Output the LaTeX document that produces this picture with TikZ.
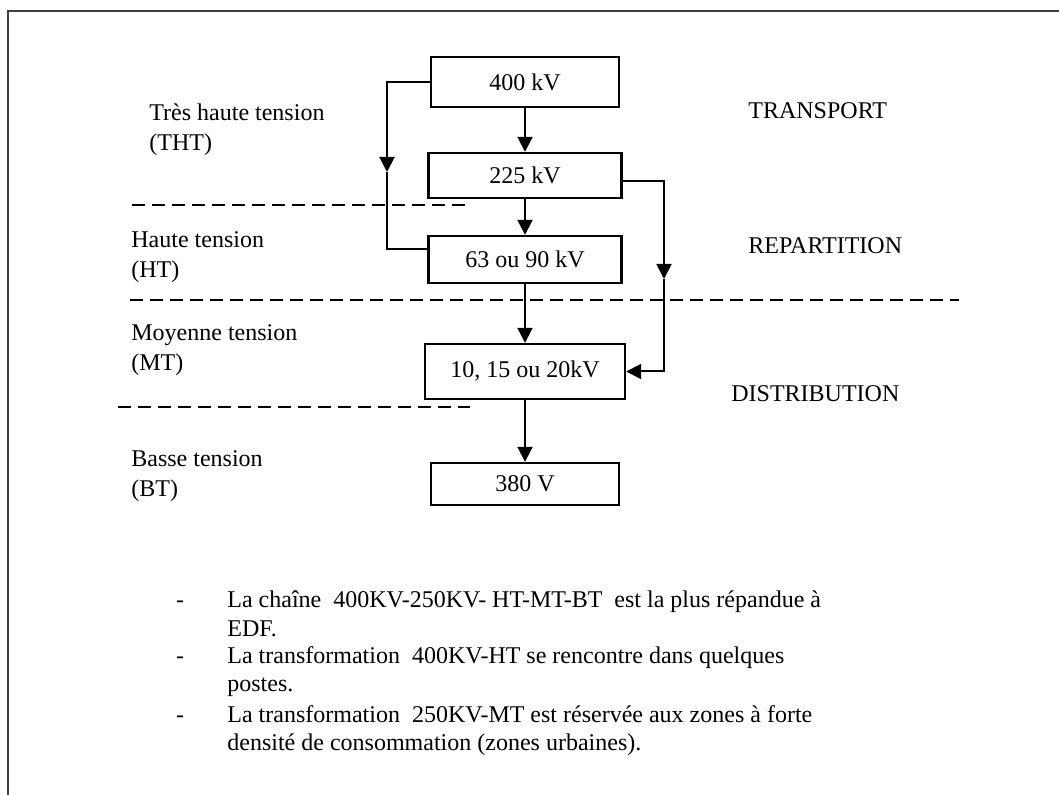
\documentclass[tikz,border=0pt]{standalone}
\usepackage{fontspec}
\setmainfont{Liberation Serif}
\usetikzlibrary{arrows.meta}

\tikzset{
  every node/.style={font=\fontsize{12pt}{14pt}\selectfont},
  voltbox/.style={draw, line width=1.2pt, inner sep=0pt},
  levellabel/.style={anchor=base west, align=left, inner sep=0pt,
    font=\fontsize{12pt}{15pt}\selectfont},
  zonelabel/.style={anchor=west, inner sep=0pt},
  notetext/.style={anchor=base west, align=left, inner sep=0pt},
  zoneline/.style={line width=0.8pt, dash pattern=on 6.5pt off 3.5pt},
  flow/.style={line width=1pt},
}

\begin{document}
\begin{tikzpicture}[x=0.5pt, y=-0.5pt, >={Triangle[length=7.5pt,width=7.5pt]}]
  \useasboundingbox (0,0) rectangle (1059,795);
  \draw[line width=1pt, black!75] (8,795) -- (8,11) -- (1059,11);

  \node[voltbox, minimum width=94pt, minimum height=25pt] (v400) at (525,82) {400 kV};
  \node[voltbox, minimum width=96.5pt, minimum height=22.5pt] (v225) at (525,175.5) {225 kV};
  \node[voltbox, minimum width=96.5pt, minimum height=23.5pt] (v63) at (525,259.5) {63 ou 90 kV};
  \node[voltbox, minimum width=100pt, minimum height=27.5pt] (v1020) at (525,371.5) {10, 15 ou 20kV};
  \node[voltbox, minimum width=94pt, minimum height=21pt] (v380) at (525,484) {380 V};

  \draw[flow, ->] (v400) -- (v225);
  \draw[flow, ->] (v225) -- (v63);
  \draw[flow, ->] (v63) -- (v1020);
  \draw[flow, ->] (v1020) -- (v380);

  \coordinate (lt) at (387,172);
  \draw[flow, ->] (v400.west) -| (lt);
  \draw[flow] (lt) |- ([yshift=5pt]v63.west);
  \coordinate (rt) at (664,279);
  \draw[flow, ->] ([yshift=-3pt]v225.east) -| (rt);
  \draw[flow, ->] (rt) |- (v1020.east);

  \draw[zoneline] (132,205) -- (471,205);
  \draw[zoneline] (130,300) -- (959,300);
  \draw[zoneline] (118,407) -- (470,407);

  \node[levellabel] (tht) at (149,151) {Très haute tension\\(THT)};
  \node[levellabel] (ht) at (131,278) {Haute tension\\(HT)};
  \node[levellabel] (mt) at (131,371) {Moyenne tension\\(MT)};
  \node[levellabel] (bt) at (131,497) {Basse tension\\(BT)};

  \node[zonelabel] (transport) at (748,111) {TRANSPORT};
  \node[zonelabel] (repart) at (748,246) {REPARTITION};
  \node[zonelabel] (distrib) at (731,394) {DISTRIBUTION};

  \node[anchor=base, inner sep=0pt] (dash1) at (180,608) {-};
  \node[anchor=base, inner sep=0pt] (dash2) at (180,663) {-};
  \node[anchor=base, inner sep=0pt] (dash3) at (180,722) {-};
  \node[notetext] (note1) at (227,636) {La chaîne\ \ 400KV-250KV- HT-MT-BT\ \ est la plus répandue à\\EDF.};
  \node[notetext] (note2) at (227,691) {La transformation\ \ 400KV-HT se rencontre dans quelques\\postes.};
  \node[notetext] (note3) at (227,750) {La transformation\ \ 250KV-MT est réservée aux zones à forte\\densité de consommation (zones urbaines).};
\end{tikzpicture}
\end{document}
